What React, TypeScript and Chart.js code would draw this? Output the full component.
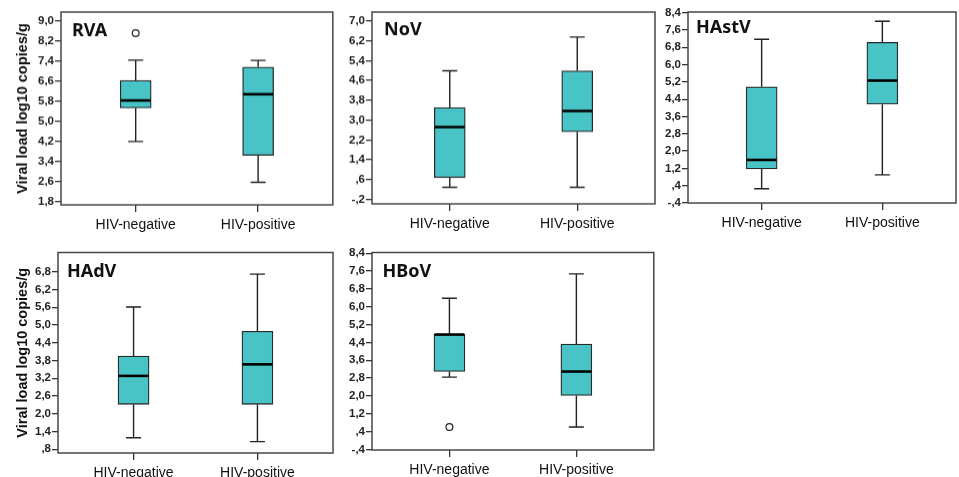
import { useEffect, useRef } from 'react';
import { Chart, registerables } from 'chart.js';

Chart.register(...registerables);

// ---------- data ----------
const CATEGORIES = ['HIV-negative', 'HIV-positive'];
const Y_TITLE = 'Viral load log10 copies/g';

// each row: [min, q1, median, q3, max] for HIV-negative, HIV-positive
const RVA_STATS = [
  [4.19, 5.53, 5.83, 6.63, 7.44],
  [2.56, 3.64, 6.08, 7.16, 7.43],
];
const RVA_OUTLIERS = [[8.52], []];
const RVA_TICKS = [1.8, 2.6, 3.4, 4.2, 5.0, 5.8, 6.6, 7.4, 8.2, 9.0];

const NOV_STATS = [
  [0.29, 0.68, 2.72, 3.51, 4.99],
  [0.29, 2.53, 3.37, 4.99, 6.35],
];
const NOV_OUTLIERS = [[], []];
const NOV_TICKS = [-0.2, 0.6, 1.4, 2.2, 3.0, 3.8, 4.6, 5.4, 6.2, 7.0];

const HASTV_STATS = [
  [0.26, 1.17, 1.59, 4.97, 7.17],
  [0.9, 4.17, 5.26, 7.03, 8.0],
];
const HASTV_OUTLIERS = [[], []];
const HASTV_TICKS = [-0.4, 0.4, 1.2, 2.0, 2.8, 3.6, 4.4, 5.2, 6.0, 6.8, 7.6, 8.4];

const HADV_STATS = [
  [1.19, 2.32, 3.28, 3.95, 5.61],
  [1.06, 2.32, 3.67, 4.79, 6.72],
];
const HADV_OUTLIERS = [[], []];
const HADV_TICKS = [0.8, 1.4, 2.0, 2.6, 3.2, 3.8, 4.4, 5.0, 5.6, 6.2, 6.8];

const HBOV_STATS = [
  [2.84, 3.09, 4.75, 4.76, 6.38],
  [0.6, 2.02, 3.09, 4.32, 7.47],
];
const HBOV_OUTLIERS = [[0.6], []];
const HBOV_TICKS = [-0.4, 0.4, 1.2, 2.0, 2.8, 3.6, 4.4, 5.2, 6.0, 6.8, 7.6, 8.4];

// ---------- layout / style ----------
const BOX_COLOR = '#49C4C6';
const LINE_COLOR = '#222222';
const FRAME_COLOR = '#474747';
const FONT = '"Liberation Sans", Arial, sans-serif';

type PanelCfg = {
  name: string;
  stats: number[][];
  outliers: number[][];
  ticks: number[];
  ymin: number;
  ymax: number;
  L: number; T: number; R: number; B: number;
  cl: number; ct: number;
  yTitle: boolean;
  nameDx: number; nameDy: number;
};

const PANELS: PanelCfg[] = [
  { name: 'RVA', stats: RVA_STATS, outliers: RVA_OUTLIERS, ticks: RVA_TICKS, ymin: 1.66, ymax: 9.36,
    L: 61, T: 12, R: 335, B: 204.5, cl: 0, ct: 0, yTitle: true, nameDx: 11, nameDy: 23.5 },
  { name: 'NoV', stats: NOV_STATS, outliers: NOV_OUTLIERS, ticks: NOV_TICKS, ymin: -0.38, ymax: 7.36,
    L: 372, T: 12, R: 655, B: 203.5, cl: 338, ct: 0, yTitle: false, nameDx: 12, nameDy: 23 },
  { name: 'HAstV', stats: HASTV_STATS, outliers: HASTV_OUTLIERS, ticks: HASTV_TICKS, ymin: -0.4, ymax: 8.43,
    L: 688, T: 12, R: 956, B: 203, cl: 658, ct: 0, yTitle: false, nameDx: 8, nameDy: 21 },
  { name: 'HAdV', stats: HADV_STATS, outliers: HADV_OUTLIERS, ticks: HADV_TICKS, ymin: 0.675, ymax: 7.45,
    L: 58, T: 252.5, R: 333, B: 453, cl: 0, ct: 240, yTitle: true, nameDx: 9, nameDy: 24 },
  { name: 'HBoV', stats: HBOV_STATS, outliers: HBOV_OUTLIERS, ticks: HBOV_TICKS, ymin: -0.43, ymax: 8.43,
    L: 372, T: 252.5, R: 656, B: 450, cl: 338, ct: 240, yTitle: false, nameDx: 10.5, nameDy: 24 },
];

const fmt = (v: number) => {
  let s = Math.abs(v).toFixed(1).replace('.', ',');
  if (s.startsWith('0')) s = s.slice(1);
  return (v < 0 ? '-' : '') + s;
};

function Panel({ cfg }: { cfg: PanelCfg }) {
  const ref = useRef<HTMLCanvasElement>(null);
  const width = cfg.R - cfg.cl + 3;
  const height = cfg.B - cfg.ct + 34;

  useEffect(() => {
    const { stats, outliers, ticks, name, L, T, cl, ct, ymin, ymax, yTitle, nameDx, nameDy } = cfg;
    const BOX_W = 31;
    const CAP_W = 15;

    const boxPlugin = {
      id: 'boxExtras',
      afterDatasetsDraw(chart: any) {
        const { ctx } = chart;
        const xs = chart.scales.x;
        const ys = chart.scales.y;
        ctx.save();
        stats.forEach((s, i) => {
          const x = xs.getPixelForValue(i + 1);
          const [mn, q1, md, q3, mx] = s.map((v) => ys.getPixelForValue(v));
          ctx.strokeStyle = LINE_COLOR;
          ctx.lineWidth = 1.4;
          ctx.beginPath();
          ctx.moveTo(x, q3); ctx.lineTo(x, mx);
          ctx.moveTo(x - CAP_W / 2, mx); ctx.lineTo(x + CAP_W / 2, mx);
          ctx.moveTo(x, q1); ctx.lineTo(x, mn);
          ctx.moveTo(x - CAP_W / 2, mn); ctx.lineTo(x + CAP_W / 2, mn);
          ctx.stroke();
          ctx.strokeStyle = '#000';
          ctx.lineWidth = 2.6;
          ctx.beginPath();
          ctx.moveTo(x - BOX_W / 2 + 0.6, md); ctx.lineTo(x + BOX_W / 2 - 0.6, md);
          ctx.stroke();
        });
        ctx.restore();
      },
      afterDraw(chart: any) {
        const { ctx, chartArea } = chart;
        ctx.save();
        ctx.strokeStyle = FRAME_COLOR;
        ctx.lineWidth = 1.5;
        ctx.strokeRect(chartArea.left, chartArea.top, chartArea.right - chartArea.left, chartArea.bottom - chartArea.top);
        ctx.fillStyle = '#111';
        ctx.font = 'bold 18px "Noto Sans", "Open Sans", sans-serif';
        ctx.textBaseline = 'alphabetic';
        ctx.textAlign = 'left';
        ctx.fillText(name, chartArea.left + nameDx, chartArea.top + nameDy);
        ctx.restore();
      },
    };

    const chart = new Chart(ref.current as HTMLCanvasElement, {
      type: 'bar',
      data: {
        datasets: [
          {
            type: 'bar',
            data: stats.map((s, i) => ({ x: i + 1, y: [s[1], s[3]] })) as any,
            backgroundColor: BOX_COLOR,
            borderColor: '#2a2a2a',
            borderWidth: 1.3,
            borderSkipped: false,
            barThickness: BOX_W,
          } as any,
          {
            type: 'scatter',
            data: outliers.flatMap((o, i) => o.map((v) => ({ x: i + 1, y: v }))) as any,
            pointRadius: 3.4,
            pointBackgroundColor: '#ffffff',
            pointBorderColor: '#222',
            pointBorderWidth: 1.2,
          } as any,
        ],
      },
      options: {
        responsive: false,
        animation: false,
        events: [],
        layout: { padding: { top: T - ct, right: 3, left: 0, bottom: 0 } },
        plugins: { legend: { display: false }, tooltip: { enabled: false } },
        scales: {
          x: {
            type: 'linear',
            min: 0.39,
            max: 2.61,
            offset: false,
            afterBuildTicks: (s: any) => { s.ticks = CATEGORIES.map((_, i) => ({ value: i + 1 })); },
            afterFit: (s: any) => { s.height = 34; },
            ticks: {
              callback: (v: any) => CATEGORIES[Math.round(v) - 1] ?? '',
              font: { family: FONT, size: 14 },
              color: '#111',
              padding: 5,
              autoSkip: false,
              maxRotation: 0,
            },
            grid: { offset: false, drawOnChartArea: false, drawTicks: true, tickLength: 7, color: '#333', lineWidth: 1.3 },
            border: { display: false },
          },
          y: {
            type: 'linear',
            min: ymin,
            max: ymax,
            afterBuildTicks: (s: any) => { s.ticks = ticks.map((v) => ({ value: v })); },
            afterFit: (s: any) => { s.width = L - cl; },
            ticks: {
              callback: (v: any) => fmt(Number(v)),
              font: { family: FONT, size: 11.5, weight: 'bold' },
              color: '#222',
              padding: 1,
              autoSkip: false,
            },
            grid: { drawOnChartArea: false, drawTicks: true, tickLength: 6, color: '#333', lineWidth: 1.3 },
            border: { display: false },
            title: yTitle
              ? { display: true, text: Y_TITLE, font: { family: FONT, size: 14.5, weight: 'bold' }, color: '#111', padding: { top: 14.5, bottom: 0 } }
              : { display: false },
          },
        },
      } as any,
      plugins: [boxPlugin],
    });
    return () => chart.destroy();
  }, []);

  return (
    <canvas
      ref={ref}
      width={width}
      height={height}
      style={{ position: 'absolute', left: cfg.cl, top: cfg.ct, width, height }}
    />
  );
}

export default function App() {
  return (
    <div style={{ position: 'absolute', left: 0, top: 0, width: 959, height: 477, background: '#fff', overflow: 'hidden' }}>
      {PANELS.map((p) => (
        <Panel key={p.name} cfg={p} />
      ))}
    </div>
  );
}
